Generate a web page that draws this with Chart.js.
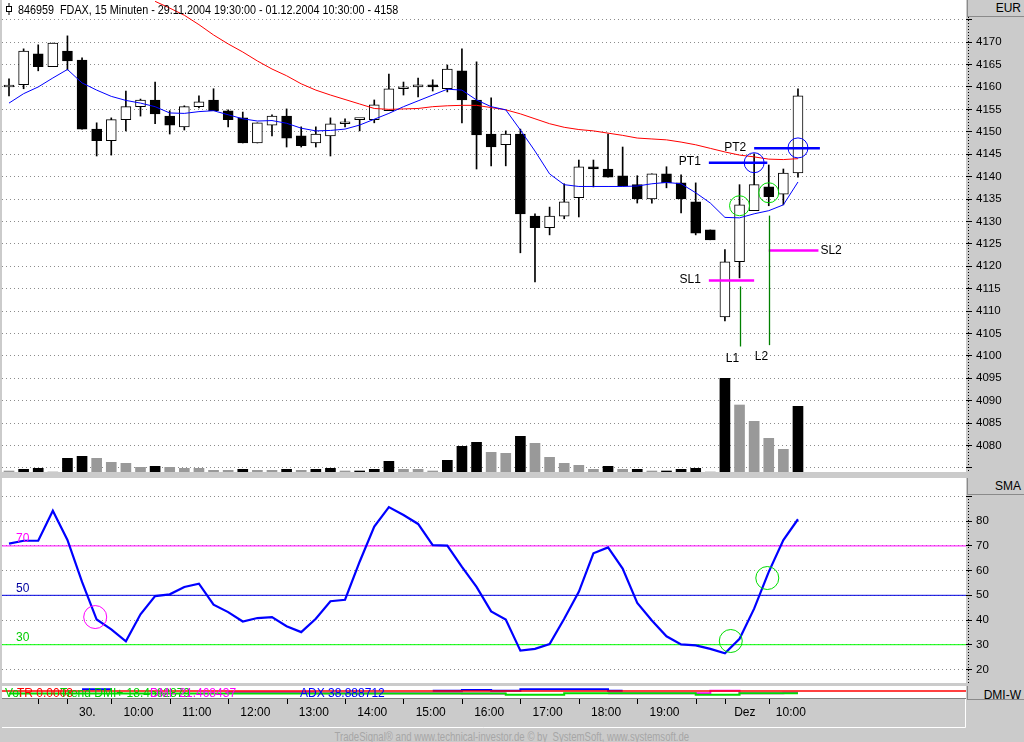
<!DOCTYPE html>
<html>
<head>
<meta charset="utf-8">
<title>846959 FDAX 15 Minuten</title>
<script src="https://cdn.jsdelivr.net/npm/chart.js"></script>
<style>
  html, body { margin: 0; padding: 0; }
  body { width: 1024px; height: 742px; background: #cbcbcb; position: relative; overflow: hidden;
         font-family: "Liberation Sans", Arial, sans-serif; }
  canvas { position: absolute; left: 2px; }
  #priceCanvas { top: 0; }
  #oscCanvas { top: 478px; }
  #dmiCanvas { top: 686px; }
  .head { position: absolute; left: 967px; width: 53px; height: 16px; padding-right: 4px; text-align: right;
          font-size: 12px; line-height: 16px; border-bottom: 1px solid #8a8a8a; border-left: 1px solid #8a8a8a;
          background: #cbcbcb; overflow: hidden; }
  #icon { position: absolute; left: 4px; top: 3px; }
  #title { position: absolute; left: 18px; top: 2px; font-size: 13px; line-height: 15px; white-space: pre;
           transform: scaleX(0.83); transform-origin: 0 0; }
  #footer { position: absolute; left: 0; top: 730px; width: 1024px; text-align: center; font-size: 12px; color: #a6a6a6;
            transform: scaleX(0.8); transform-origin: 511px 0; white-space: pre; }
</style>
</head>
<body>
<canvas id="priceCanvas" width="1022" height="472"></canvas>
<canvas id="oscCanvas" width="1022" height="205"></canvas>
<canvas id="dmiCanvas" width="1022" height="42"></canvas>
<svg id="icon" width="10" height="12"><line x1="5" y1="0" x2="5" y2="12" stroke="#000"/><rect x="2.5" y="3.5" width="5" height="5" fill="#fff" stroke="#000"/></svg>
<div id="title">846959  FDAX, 15 Minuten - 29.11.2004 19:30:00 - 01.12.2004 10:30:00 - 4158</div>
<div class="head" style="top:0">EUR</div>
<div class="head" style="top:478px">SMA</div>
<div class="head" style="top:686px;height:13px;line-height:19px">DMI-W</div>
<div id="footer">TradeSignal® and www.technical-investor.de © by  SystemSoft, www.systemsoft.de</div>

<script>
const FONT = '"Liberation Sans", Arial, sans-serif';
const FSIZE = 11.5;

// 15 minute bars, 29.11.2004 19:30 - 01.12.2004 10:30
const times = ['29.11 19:30', '19:45', '20:00', '20:15',
  '30.11 09:15', '09:30', '09:45', '10:00', '10:15', '10:30', '10:45', '11:00', '11:15', '11:30', '11:45',
  '12:00', '12:15', '12:30', '12:45', '13:00', '13:15', '13:30', '13:45', '14:00', '14:15', '14:30', '14:45',
  '15:00', '15:15', '15:30', '15:45', '16:00', '16:15', '16:30', '16:45', '17:00', '17:15', '17:30', '17:45',
  '18:00', '18:15', '18:30', '18:45', '19:00', '19:15', '19:30', '19:45', '20:00', '20:15',
  '01.12 09:15', '09:30', '09:45', '10:00', '10:15', '10:30'];

const open  = [4160, 4160.5, 4167.4, 4164.5, 4168, 4166, 4150.6, 4148, 4152.7, 4155.6, 4157.1, 4153.5, 4151.1, 4155.6,
  4157.1, 4154.7, 4153.1, 4147.5, 4151.5, 4153.5, 4149.1, 4147.5, 4149.1, 4151.8, 4152.7, 4152.7, 4154.7, 4159.6,
  4160, 4160.5, 4159.6, 4163.6, 4157.1, 4149.5, 4147.1, 4149.5, 4131.2, 4128.6, 4131.2, 4135.3, 4142.2, 4141.7,
  4140.2, 4138.2, 4135, 4140.6, 4138.6, 4134.4, 4128.1, 4108.7, 4121, 4132.4, 4137.7, 4136.1, 4140.8];
const high  = [4161.8, 4168.5, 4169.4, 4169.8, 4171.4, 4166.5, 4152, 4153.1, 4159.1, 4157.3, 4161.1, 4154.7, 4155.8, 4158,
  4159.6, 4154.9, 4154.4, 4152, 4153.8, 4155.1, 4151.1, 4151.1, 4153.1, 4152.9, 4152.7, 4157.1, 4162.9, 4161.1,
  4162, 4161.6, 4164.9, 4168.5, 4165.6, 4157.6, 4150.2, 4150.6, 4131.7, 4133.2, 4138.4, 4143.7, 4143.7, 4149.5,
  4146.6, 4140.2, 4140.6, 4142.2, 4140.4, 4138.6, 4128.1, 4123.7, 4138.2, 4145.1, 4142.6, 4141.7, 4159.6];
const low   = [4158, 4159.6, 4163.6, 4164.5, 4163.8, 4150.6, 4144.6, 4144.8, 4150.2, 4153.5, 4151.8, 4149.5, 4150.4, 4155.3,
  4154.7, 4151.1, 4147.5, 4147.5, 4149.1, 4146.6, 4146.6, 4146.6, 4144.6, 4151.1, 4150.2, 4152, 4154.7, 4158.2,
  4157.8, 4159.1, 4158.9, 4152, 4141.7, 4142.4, 4142.4, 4123, 4116.5, 4127, 4130.6, 4131, 4137.7, 4139.9,
  4137.9, 4134.1, 4134.1, 4137.5, 4131.9, 4127, 4125.9, 4107.8, 4117.4, 4132.4, 4133.5, 4133.7, 4139.9];
const close = [4160, 4168, 4164.5, 4169.8, 4165.8, 4150.6, 4148, 4152.7, 4155.6, 4157.1, 4154, 4151.5, 4155.6, 4156.7,
  4154.7, 4152.7, 4147.5, 4152, 4153.5, 4148.6, 4146.9, 4149.5, 4151.8, 4151.8, 4152.7, 4156, 4159.6, 4160,
  4160.5, 4160, 4164, 4157.1, 4149.3, 4146.6, 4149.5, 4131.7, 4128.6, 4131.2, 4134.4, 4142.2, 4141.7, 4139.9,
  4137.9, 4135, 4140.6, 4138.6, 4135, 4127.4, 4125.9, 4121, 4133.7, 4138.2, 4135.5, 4140.8, 4158];

// volume in contracts, and whether the bar is drawn dark (1) or grey (0)
const volume = [100, 270, 370, 0, 1370, 1570, 1370, 970, 870, 470, 570, 470, 370, 370, 170, 170, 270, 170, 170, 270,
  170, 270, 370, 100, 100, 270, 1070, 270, 270, 100, 1170, 2570, 2970, 1970, 1870, 3570, 2870, 1470, 870, 670,
  270, 570, 270, 270, 100, 100, 270, 370, 0, 9370, 6700, 5070, 3370, 2270, 6570];
const volDark = [0, 1, 1, 0, 1, 1, 0, 0, 0, 0, 1, 0, 0, 0, 0, 0, 1, 0, 0, 1, 0, 1, 1, 0, 1, 1, 1, 0, 0, 0, 1, 1, 1, 0, 0,
  1, 0, 0, 0, 0, 0, 1, 0, 1, 0, 1, 1, 1, 0, 1, 0, 0, 0, 0, 1];

// fast (blue) and slow (red) moving averages
const maFast = [4156.4, 4158.5, 4160, 4162, 4163.9, 4160.9, 4159.3, 4157.9, 4157, 4156.4, 4155.6, 4154.2, 4154.1, 4154.5,
  4154.7, 4153.8, 4152.9, 4152.4, 4152.5, 4151.9, 4150.8, 4150.2, 4150.3, 4150.6, 4151.5, 4152.8, 4154.1, 4155.6,
  4156.9, 4158.2, 4159.5, 4159.3, 4157.1, 4155.6, 4154.9, 4150.4, 4145.7, 4140.6, 4138.2, 4137.8, 4137.8, 4137.8,
  4137.8, 4137.9, 4138.4, 4138.7, 4138.4, 4136.4, 4134.1, 4130.9, 4130.8, 4131.7, 4132.4, 4133.7, 4138.8];
const maSlow = [null, null, null, null, null, null, null, null, null, null, 4179.1, 4177.6, 4176, 4173.9, 4171.6,
  4169.6, 4167.8, 4165.8, 4164, 4162.5, 4160.7, 4159.3, 4158.2, 4157.2, 4156.2, 4155.2, 4155, 4155.1, 4155.2,
  4155.6, 4155.8, 4155.9, 4155.9, 4155.4, 4154.9, 4154, 4152.9, 4151.8, 4151, 4150.5, 4150.2, 4149.7, 4149.2,
  4148.6, 4148.4, 4148.2, 4147.7, 4147.1, 4146.3, 4145.5, 4144.8, 4144.4, 4143.9, 4143.8, 4144];

// oscillator (SMA panel)
const osc = [70.9, 72.1, 72.1, 84.2, 72.4, 55.4, 40.2, 36.2, 31.4, 42.3, 49.7, 50.4, 53.4, 54.7, 46.2, 43.2, 39.4, 40.8,
  41.2, 37.5, 35.1, 40.5, 47.6, 48.2, 63.6, 77.8, 85.7, 82.5, 78.9, 70.3, 70.1, 61.5, 53.4, 43.5, 40.2, 27.6, 28.3,
  30.3, 40.5, 51.4, 67, 69.4, 60.8, 46.9, 39.8, 33.4, 30.1, 29.7, 28.3, 26.5, 32.4, 44.6, 59.5, 72.4, 80.8];
const oscLevels = [70, 50, 30];

// DMI panel
const dmiPlus = [23, 23, 23, 23, 23, 23, 23, 23, 23, 23, 23, 23, 23, 23, 23, 23, 23, 23, 23, 23, 23, 23, 23, 23, 23, 23,
  23, 23, 23, 23, 23, 23, 23, 23, 16.5, 16.5, 16.5, 16.5, 23.5, 23.5, 23.5, 23.5, 23.5, 23.5, 23.5, 23.5, 23.5,
  16.5, 16.5, 16.5, 23.5, 23.5, 23.5, 23.5, 23.5];
const dmiMinus = [null, null, null, null, null, null, null, null, null, null, null, null, null, null, null, 29, 29, 29,
  29, 29, 29, 24, 24, 24, 24, 24, 24, 24, 24, 24, 24, 23, 23, 23, 23, null, null, null, null, null, null, 23.5,
  23.5, 23.5, 23.5, 23.5, 23.5, 23.5, 36.5, 36.5, 24, 24, 24, 26, 26];
const adx = [null, null, null, null, null, 44, 44, 44, null, null, null, null, null, null, null, null, null, null, null,
  null, null, null, null, null, null, null, null, null, null, 36.5, 36.5, 40, 40, 36.5, 36.5, 43.5, 43.5, 43.5,
  43.5, 43.5, 43.5, 36.5, 36.5, null, null, null, null, null, null, null, null, null, null, null, null];
const dmiLevel = 35;

// trade marks: targets / stops, entries, signal circles
const levelName  = ['PT1', 'PT2', 'SL1', 'SL2'];
const levelPrice = [4143.1, 4146.3, 4116.8, 4123.5];
const levelFrom  = [47.9, 51, 47.9, 52];
const levelTo    = [51.9, 55.5, 51, 55.4];
const entryName  = ['L1', 'L2'];
const entryIdx   = [50, 52];
const entryTop   = [4115.5, 4131.3];
const entryLow   = [4102.1, 4102.4];
const targetHitIdx = [51, 54], targetHitPrice = [4143.1, 4146.4];
const entryHitIdx  = [50, 52], entryHitPrice  = [4133.5, 4136.4];
const oscSigIdx = [5.9, 49.4, 51.9], oscSigVal = [41.2, 31.5, 57];

const priceTicks = [4075, 4080, 4085, 4090, 4095, 4100, 4105, 4110, 4115, 4120, 4125, 4130, 4135, 4140, 4145,
  4150, 4155, 4160, 4165, 4170, 4175];
const oscTicks = [20, 30, 40, 50, 60, 70, 80, 90];
const axisTicks  = [2, 4, 7, 11, 15, 19, 23, 27, 31, 35, 39, 43, 47, 49, 52];
const axisLabels = ['', '30.', '10:00', '11:00', '12:00', '13:00', '14:00', '15:00', '16:00', '17:00', '18:00',
  '19:00', '', 'Dez', '10:00'];

const XMIN = -0.479, XMAX = 65.5;
const idx = times.map((_, i) => i);

const xAxis = { type: 'linear', min: XMIN, max: XMAX, display: false, offset: false };
const baseOpts = {
  responsive: false, animation: false, events: [],
  layout: { padding: 0 },
  plugins: { legend: { display: false }, tooltip: { enabled: false } }
};

function rightAxis(min, max, ticks, shown) {
  return {
    type: 'linear', position: 'right', min: min, max: max,
    afterBuildTicks: s => { s.ticks = ticks.map(v => ({ value: v })); },
    afterFit: s => { s.width = 58; s.paddingTop = 0; s.paddingBottom = 0; },
    ticks: { color: '#000', font: { family: FONT, size: FSIZE }, padding: 4,
             callback: v => (shown(v) ? String(v) : '') },
    grid: { color: '#8c8c8c', tickColor: '#000', tickLength: 6 },
    border: { display: false, dash: [1, 3] }
  };
}

const whiteArea = {
  id: 'whiteArea',
  beforeDraw(chart) {
    const { ctx, chartArea: a } = chart;
    ctx.save();
    ctx.fillStyle = '#ffffff';
    ctx.fillRect(a.left, a.top, a.right - a.left, a.bottom - a.top);
    ctx.restore();
  }
};

const axisRule = {
  id: 'axisRule',
  afterDraw(chart, args, opts) {
    const { ctx, chartArea: a } = chart;
    ctx.save();
    ctx.strokeStyle = '#000';
    ctx.setLineDash([1, 2]);
    ctx.beginPath();
    ctx.moveTo(a.right + 2.5, a.top + (opts.from || 0));
    ctx.lineTo(a.right + 2.5, a.bottom);
    ctx.stroke();
    ctx.restore();
  }
};

function circle(ctx, x, y, r, color) {
  ctx.strokeStyle = color;
  ctx.lineWidth = 1;
  ctx.beginPath();
  ctx.arc(x, y, r, 0, Math.PI * 2);
  ctx.stroke();
}

const tradeMarks = {
  id: 'tradeMarks',
  afterDatasetsDraw(chart) {
    const { ctx } = chart;
    const xs = chart.scales.x, ys = chart.scales.y;
    ctx.save();
    ctx.font = '12px ' + FONT;
    ctx.textBaseline = 'middle';
    ctx.fillStyle = '#000';
    levelName.forEach((name, k) => {
      const y = ys.getPixelForValue(levelPrice[k]);
      const x1 = xs.getPixelForValue(levelFrom[k]), x2 = xs.getPixelForValue(levelTo[k]);
      ctx.strokeStyle = name.startsWith('PT') ? '#0000ff' : '#ff00ff';
      ctx.lineWidth = 2.5;
      ctx.beginPath(); ctx.moveTo(x1, y); ctx.lineTo(x2, y); ctx.stroke();
      if (name === 'SL2') { ctx.textAlign = 'left'; ctx.fillText(name, x2 + 2, y); }
      else { ctx.textAlign = 'right'; ctx.fillText(name, x1 - 8, y - 1); }
    });
    entryName.forEach((name, k) => {
      const x = Math.round(xs.getPixelForValue(entryIdx[k])) + 0.5;
      ctx.strokeStyle = '#008000';
      ctx.lineWidth = 1.3;
      ctx.beginPath();
      ctx.moveTo(x, ys.getPixelForValue(entryTop[k]));
      ctx.lineTo(x, ys.getPixelForValue(entryLow[k]));
      ctx.stroke();
      ctx.textAlign = 'center';
      ctx.fillText(name, x - 8, ys.getPixelForValue(entryLow[k]) + 12);
    });
    targetHitIdx.forEach((i, k) => circle(ctx, xs.getPixelForValue(i), ys.getPixelForValue(targetHitPrice[k]), 10, '#0000ff'));
    entryHitIdx.forEach((i, k) => circle(ctx, xs.getPixelForValue(i), ys.getPixelForValue(entryHitPrice[k]), 10, '#00dd00'));
    ctx.restore();
  }
};

new Chart(document.getElementById('priceCanvas'), {
  type: 'bar',
  data: {
    datasets: [
      { type: 'line', data: idx.map(i => ({ x: i, y: maFast[i] })), borderColor: '#0000ff', borderWidth: 1,
        pointRadius: 0, order: 0 },
      { type: 'line', data: idx.map(i => ({ x: i, y: maSlow[i] })), borderColor: '#ff0000', borderWidth: 1,
        pointRadius: 0, order: 0 },
      { data: idx.map(i => ({ x: i, y: [open[i], close[i]] })),
        backgroundColor: idx.map(i => (close[i] >= open[i] ? '#ffffff' : '#000000')),
        borderColor: '#000', borderWidth: 1, borderSkipped: false, barThickness: 10, minBarLength: 2,
        grouped: false, order: 2 },
      { data: idx.map(i => ({ x: i, y: [low[i], high[i]] })), backgroundColor: '#000', borderWidth: 0,
        barThickness: 1, grouped: false, order: 3 },
      { data: idx.map(i => ({ x: i, y: volume[i] })), yAxisID: 'yv',
        backgroundColor: idx.map(i => (volDark[i] ? '#000000' : '#999999')), borderWidth: 0,
        barThickness: 10, grouped: false, order: 4 }
    ]
  },
  options: Object.assign({}, baseOpts, {
    scales: {
      x: xAxis,
      y: rightAxis(4074.1, 4179.4, priceTicks, v => v >= 4080 && v <= 4170),
      yv: { type: 'linear', display: false, min: 0, max: 47200 }
    },
    plugins: Object.assign({}, baseOpts.plugins, { axisRule: { from: 17 } })
  }),
  plugins: [whiteArea, axisRule, tradeMarks]
});

const oscMarks = {
  id: 'oscMarks',
  afterDatasetsDraw(chart) {
    const { ctx } = chart;
    const xs = chart.scales.x, ys = chart.scales.y;
    const labelColor = { 70: '#ff00ff', 50: '#0000a0', 30: '#00cc00' };
    ctx.save();
    ctx.font = '12px ' + FONT;
    ctx.textAlign = 'left';
    ctx.textBaseline = 'bottom';
    oscLevels.forEach(v => {
      ctx.fillStyle = labelColor[v];
      ctx.fillText(String(v), 14, ys.getPixelForValue(v) - 1);
    });
    oscSigIdx.forEach((i, k) => circle(ctx, xs.getPixelForValue(i), ys.getPixelForValue(oscSigVal[k]), 11.5,
      k === 0 ? '#ff00ff' : '#00dd00'));
    ctx.restore();
  }
};

const levelColor = { 70: '#ff00ff', 50: '#0000e0', 30: '#00ff00' };
new Chart(document.getElementById('oscCanvas'), {
  type: 'line',
  data: {
    datasets: oscLevels.map(v => ({
      data: [{ x: XMIN, y: v }, { x: XMAX, y: v }], borderColor: levelColor[v], borderWidth: 1, pointRadius: 0
    })).concat([
      { data: idx.map(i => ({ x: i, y: osc[i] })), borderColor: '#0000ff', borderWidth: 2.2, pointRadius: 0, order: -1 }
    ])
  },
  options: Object.assign({}, baseOpts, {
    scales: {
      x: xAxis,
      y: rightAxis(14.5, 97.5, oscTicks, v => v <= 80)
    },
    plugins: Object.assign({}, baseOpts.plugins, { axisRule: { from: 18 } })
  }),
  plugins: [whiteArea, axisRule, oscMarks]
});

const dmiTexts = [
  ['Vol', '#00cc00', 3], ['TR 0.0003', '#ff0000', 15], ['Trend DMI+ 18.4562879', '#00cc00', 58],
  ['DMI- 21.468437', '#ff00ff', 148], ['ADX 38.888712', '#0000ff', 298]
];

const timeAxis = {
  id: 'timeAxis',
  afterDraw(chart) {
    const { ctx, chartArea: a } = chart;
    const xs = chart.scales.x;
    ctx.save();
    // clipped DMI captions
    ctx.beginPath();
    ctx.rect(a.left, a.top, a.right - a.left, a.bottom - a.top);
    ctx.clip();
    ctx.font = '12px ' + FONT;
    ctx.textBaseline = 'alphabetic';
    dmiTexts.forEach(([t, c, x]) => { ctx.fillStyle = c; ctx.fillText(t, x, a.top + 11); });
    ctx.restore();

    ctx.save();
    const top = a.bottom;
    ctx.fillStyle = '#cbcbcb';
    ctx.fillRect(0, top, a.right, chart.height - top);
    ctx.strokeStyle = '#808080';
    ctx.beginPath(); ctx.moveTo(0, top + 0.5); ctx.lineTo(a.right, top + 0.5); ctx.stroke();
    ctx.strokeStyle = '#ffffff';
    ctx.beginPath();
    ctx.moveTo(0, chart.height - 0.5); ctx.lineTo(a.right - 0.5, chart.height - 0.5);
    ctx.lineTo(a.right - 0.5, top + 1);
    ctx.stroke();
    ctx.strokeStyle = '#000';
    ctx.font = '12px ' + FONT;
    ctx.fillStyle = '#000';
    ctx.textAlign = 'center';
    ctx.textBaseline = 'middle';
    axisTicks.forEach((t, k) => {
      const x = Math.round(xs.getPixelForValue(t)) + 0.5;
      ctx.beginPath(); ctx.moveTo(x, top + 1); ctx.lineTo(x, top + 6); ctx.stroke();
      const next = k + 1 < axisTicks.length ? axisTicks[k + 1] : 55.3;
      if (axisLabels[k]) ctx.fillText(axisLabels[k], xs.getPixelForValue((t + next) / 2) - 2, top + 15);
    });
    ctx.restore();
  }
};

new Chart(document.getElementById('dmiCanvas'), {
  type: 'line',
  data: {
    datasets: [
      { data: [{ x: XMIN, y: dmiLevel }, { x: XMAX, y: dmiLevel }], borderColor: '#ff0000', borderWidth: 1.5, pointRadius: 0 },
      { data: idx.map(i => ({ x: i, y: dmiPlus[i] })), borderColor: '#00dd00', borderWidth: 2, pointRadius: 0, stepped: true },
      { data: idx.map(i => ({ x: i, y: dmiMinus[i] })), borderColor: '#ff00ff', borderWidth: 2, pointRadius: 0, stepped: true },
      { data: idx.map(i => ({ x: i, y: adx[i] })), borderColor: '#0000ff', borderWidth: 2, pointRadius: 0, stepped: true }
    ]
  },
  options: Object.assign({}, baseOpts, {
    layout: { padding: { bottom: 30 } },
    scales: {
      x: xAxis,
      y: { type: 'linear', position: 'right', min: 0, max: 60,
           afterFit: s => { s.width = 58; s.paddingTop = 0; s.paddingBottom = 0; },
           ticks: { display: false }, grid: { display: false }, border: { display: false } }
    }
  }),
  plugins: [whiteArea, timeAxis]
});
</script>
</body>
</html>
